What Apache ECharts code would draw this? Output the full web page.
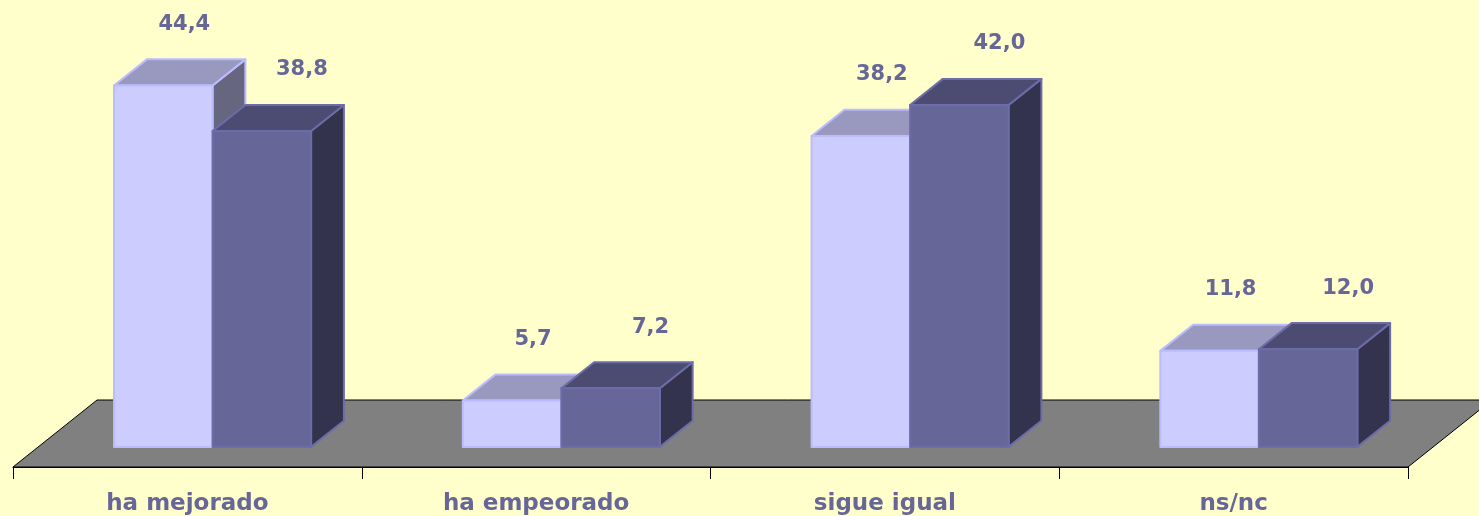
<!DOCTYPE html>
<html>
<head>
<meta charset="utf-8">
<script src="https://cdn.jsdelivr.net/npm/echarts@6/dist/echarts.min.js"></script>
<style>
html,body{margin:0;padding:0;background:#FFFFCC;}
#chart{width:1479px;height:516px;}
</style>
</head>
<body>
<div id="chart"></div>
<script>
const categories = ['ha mejorado', 'ha empeorado', 'sigue igual', 'ns/nc'];
const seriesLight = [44.4, 5.7, 38.2, 11.8];
const seriesDark = [38.8, 7.2, 42.0, 12.0];
const valueMax = 50;

const fmt = v => v.toFixed(1).replace('.', ',');

function floorDepth(params, api) {
  const band = api.size([1, 0])[0];
  return [band * 0.241, -params.coordSys.height * 0.1646];
}

function makeBar(colors, sideIdx, labelDx) {
  return function (params, api) {
    const ci = api.value(0);
    const v = api.value(1);
    const base = api.coord([ci, 0]);
    const topPt = api.coord([ci, v]);
    const band = api.size([1, 0])[0];
    const bw = band * 0.2825;
    const D = floorDepth(params, api);
    const fdx = D[0] * 0.3, fdy = D[1] * 0.3;
    const bdx = D[0] * 0.39, bdy = D[1] * 0.39;
    const x0 = base[0] + fdx + (sideIdx === 0 ? -bw : 0);
    const x1 = x0 + bw;
    const yb = base[1] + fdy;
    const yt = topPt[1] + fdy;
    const st = { stroke: colors.stroke, lineWidth: 2, lineJoin: 'round' };
    return {
      type: 'group',
      children: [
        { type: 'polygon', shape: { points: [[x1, yt], [x1 + bdx, yt + bdy], [x1 + bdx, yb + bdy], [x1, yb]] },
          style: Object.assign({ fill: colors.side }, st) },
        { type: 'polygon', shape: { points: [[x0, yt], [x1, yt], [x1 + bdx, yt + bdy], [x0 + bdx, yt + bdy]] },
          style: Object.assign({ fill: colors.top }, st) },
        { type: 'rect', shape: { x: x0, y: yt, width: bw, height: yb - yt },
          style: Object.assign({ fill: colors.front }, st) },
        { type: 'text', z2: 100,
          style: { text: fmt(v), x: x0 + bw / 2 + labelDx, y: yt + bdy - 35,
                   align: 'center', verticalAlign: 'middle',
                   font: 'bold 21px "DejaVu Sans"', fill: '#666699' } }
      ]
    };
  };
}

const chart = echarts.init(document.getElementById('chart'), null, { renderer: 'canvas' });
chart.setOption({
  animation: false,
  backgroundColor: '#FFFFCC',
  grid: { left: 13, right: 71, top: 60, bottom: 49, containLabel: false },
  xAxis: {
    type: 'category',
    data: categories,
    boundaryGap: true,
    axisLine: { show: true, lineStyle: { color: '#000000', width: 1 } },
    axisTick: { show: true, length: 12, lineStyle: { color: '#000000' } },
    axisLabel: { margin: 26, color: '#666699', fontSize: 23, fontWeight: 'bold', fontFamily: 'DejaVu Sans' },
    z: 1
  },
  yAxis: { type: 'value', min: 0, max: valueMax, show: false, splitLine: { show: false } },
  series: [
    {
      type: 'custom', z: 0, silent: true,
      data: [[0]],
      encode: { x: 0 },
      renderItem: function (params, api) {
        const cs = params.coordSys;
        const y0 = api.coord([0, 0])[1];
        const D = floorDepth(params, api);
        return {
          type: 'polygon',
          shape: { points: [[cs.x, y0], [cs.x + cs.width, y0], [cs.x + cs.width + D[0], y0 + D[1]], [cs.x + D[0], y0 + D[1]]] },
          style: { fill: '#808080', stroke: '#000000', lineWidth: 1 }
        };
      }
    },
    {
      type: 'custom', z: 3,
      data: seriesLight.map((v, i) => [i, v]),
      encode: { x: 0, y: 1 },
      renderItem: makeBar({ front: '#CCCCFF', top: '#9999BF', side: '#666680', stroke: '#BBBBFF' }, 0, 21)
    },
    {
      type: 'custom', z: 4,
      data: seriesDark.map((v, i) => [i, v]),
      encode: { x: 0, y: 1 },
      renderItem: makeBar({ front: '#666699', top: '#4C4C73', side: '#33334D', stroke: '#6C6CA8' }, 1, 40)
    }
  ]
});
</script>
</body>
</html>
